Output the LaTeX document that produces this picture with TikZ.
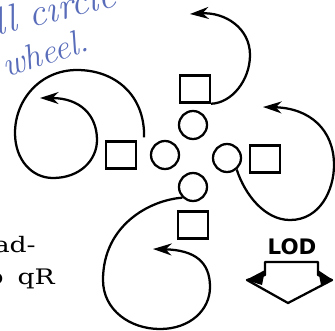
\documentclass[tikz,border=0pt]{standalone}
\usepackage{fontspec}
\usepackage{tikz}
\usetikzlibrary{arrows.meta, calc}
\newfontfamily\slabfont{DejaVu Serif}[FakeStretch=1.25]
\newfontfamily\lodfont{DejaVu Sans}
\definecolor{inkblue}{RGB}{88,108,186}

\begin{document}
\begin{tikzpicture}[x=0.75pt, y=-0.75pt,
  sq/.style={draw, line width=1.7pt, minimum width=22.4pt, minimum height=20.4pt, inner sep=0pt},
  wheel/.style={draw, circle, line width=1.7pt, minimum size=21pt, inner sep=0pt},
  swirl/.style={line width=1.7pt, -{Stealth[length=14pt, width=9pt]}},
  hand/.style={inkblue, font=\itshape\fontsize{29}{29}\selectfont, inner sep=0pt},
  frag/.style={font=\slabfont\fontsize{16}{16}\selectfont, inner sep=0pt}]
\useasboundingbox (0,0) rectangle (335,330);
\clip (0,0) rectangle (335,330);
% squares and circles round the centre
\foreach \nm/\x/\y in {tsq/195/89, lsq/121/155, rsq/265/159, bsq/193/225}
  \node[sq] (\nm) at (\x,\y) {};
\foreach \nm/\x/\y in {tc/193/125, lc/165/155, rc/227/158, bc/193/187}
  \node[wheel] (\nm) at (\x,\y) {};
% free ends of the swirls
\coordinate (tend) at (190,14);
\coordinate (rend) at (263,107);
\coordinate (lend) at (40,98);
\coordinate (bend) at (153,249);
% top swirl
\draw[swirl] (tsq.south east) .. controls (232,103) and (250,80) .. (250,55)
  .. controls (250,28) and (225,12) .. (tend);
% right swirl
\draw[swirl] (rc.-50) .. controls (245,195) and (265,220) .. (290,220)
  .. controls (320,220) and (334,190) .. (334,165)
  .. controls (334,130) and (310,108) .. (rend);
% left swirl, two turns
\draw[swirl] ([shift={(7,-3)}]lsq.north east) .. controls (145,95) and (115,70) .. (77,70)
  .. controls (40,70) and (15,100) .. (15,133)
  .. controls (15,160) and (32,178) .. (53,178)
  .. controls (80,178) and (97,160) .. (97,140)
  .. controls (97,115) and (80,98) .. (lend);
% bottom swirl
\draw[swirl] (bc.-135) .. controls (150,200) and (103,225) .. (103,280)
  .. controls (103,310) and (130,329) .. (160,329)
  .. controls (190,329) and (210,310) .. (210,287)
  .. controls (210,262) and (195,250) .. (bend);
% LOD block arrow
\node[font=\lodfont\bfseries\fontsize{16}{16}\selectfont, inner sep=0pt] (lod) at (292,247) {LOD};
\draw[line width=1.7pt, line join=round] (265,262) -- (318,262) -- (318,275) -- (332,280)
  -- (288,303) -- (247,280) -- (265,275) -- cycle;
\fill (265,270) -- (246,280) -- (262,285) -- cycle;
\fill (318,270) -- (333,280) -- (321,285) -- cycle;
% cut-off text at the left margin
\node[frag, anchor=base east] (adtxt) at (36,252) {ad-};
\node[frag, anchor=base east] (qrtxt) at (55,284) {o\hspace{4pt} qR};
% handwritten note
\node[hand, anchor=base west, rotate=14] (note1) at (-3,36) {ll circle};
\node[hand, anchor=base west, rotate=18, font=\itshape\fontsize{26}{26}\selectfont] (note2) at (6,78) {wheel.};
\end{tikzpicture}
\end{document}
